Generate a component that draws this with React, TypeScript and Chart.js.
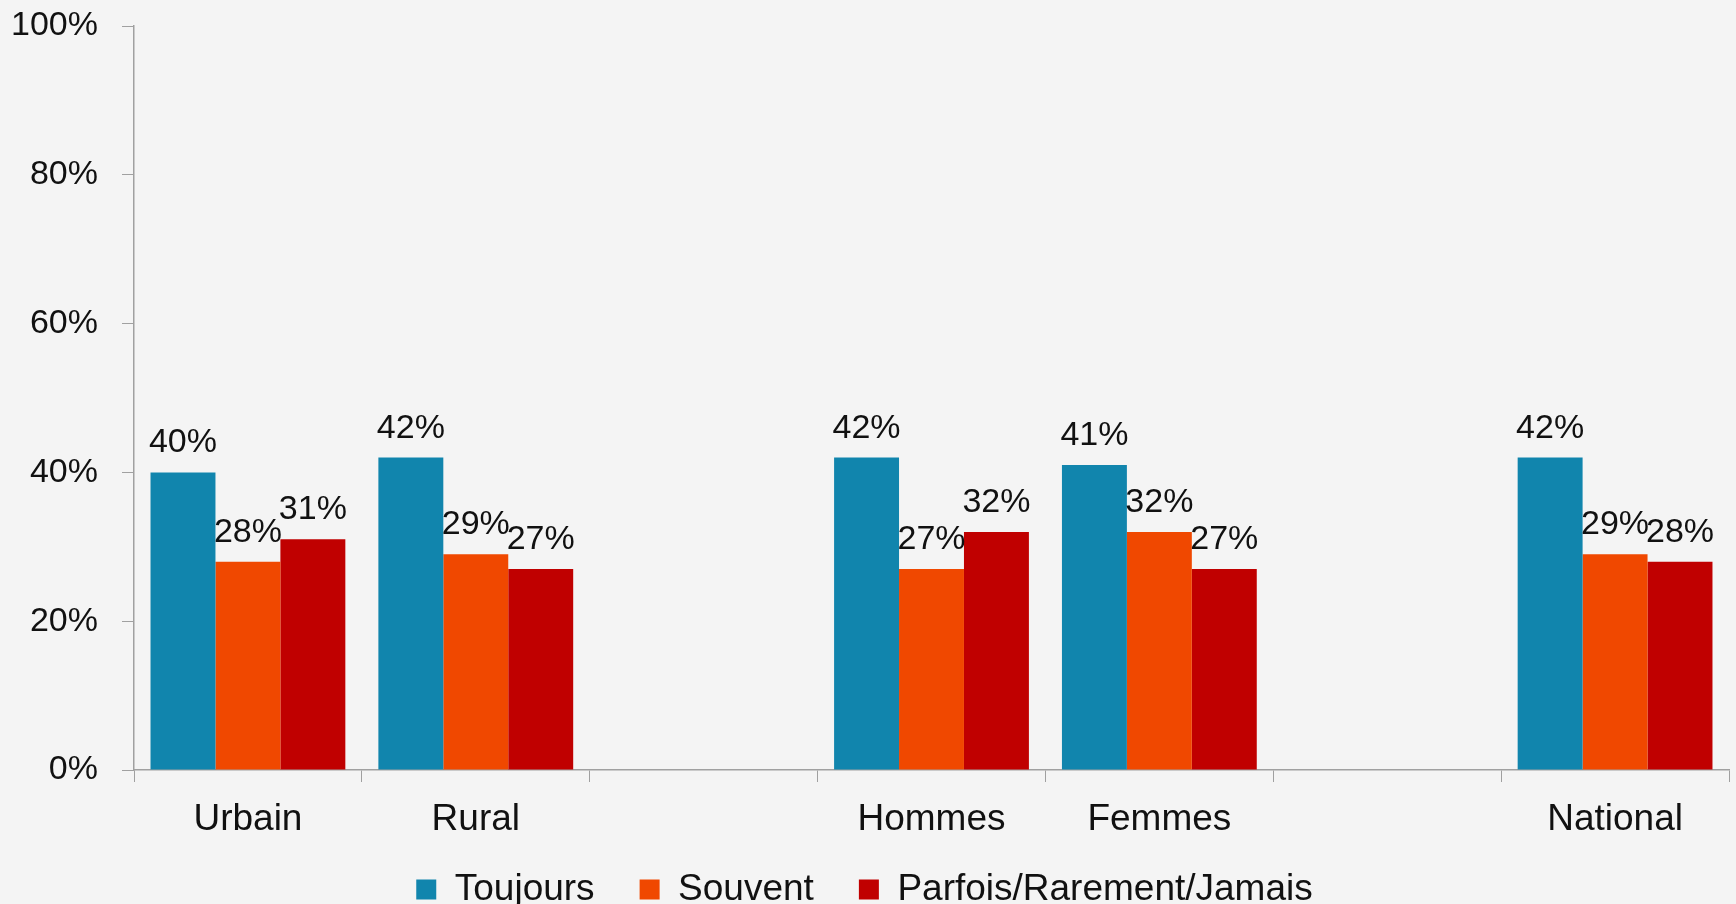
import React, { useEffect, useRef } from "react";
import { Chart, registerables } from "chart.js";

Chart.register(...registerables);

const categories = ["Urbain", "Rural", "", "Hommes", "Femmes", "", "National"];
const toujours = [40, 42, null, 42, 41, null, 42];
const souvent = [28, 29, null, 27, 32, null, 29];
const parfois = [31, 27, null, 32, 27, null, 28];
const seriesNames = ["Toujours", "Souvent", "Parfois/Rarement/Jamais"];
const yTicks = [0, 20, 40, 60, 80, 100];

const FONT = "'Liberation Sans', Arial, sans-serif";

const valueLabels = {
  id: "valueLabels",
  afterLayout(chart: any) {
    // let the category labels overflow their (short) scale box
    if (chart.scales.x) chart.scales.x._computeLabelArea = () => undefined;
  },
  afterDatasetsDraw(chart: any) {
    const ctx = chart.ctx;
    ctx.save();
    ctx.font = `34px ${FONT}`;
    ctx.fillStyle = "#111111";
    ctx.textAlign = "center";
    ctx.textBaseline = "alphabetic";
    chart.data.datasets.forEach((ds: any, i: number) => {
      const meta = chart.getDatasetMeta(i);
      meta.data.forEach((el: any, j: number) => {
        const v = ds.data[j];
        if (v === null || v === undefined) return;
        ctx.fillText(`${v}%`, el.x, el.y - 20);
      });
    });
    ctx.restore();
  },
};

export default function App() {
  const ref = useRef<HTMLCanvasElement | null>(null);

  useEffect(() => {
    document.body.style.margin = "0";
    const canvas = ref.current!;
    const chart = new Chart(canvas, {
      type: "bar",
      data: {
        labels: categories,
        datasets: [
          { label: seriesNames[0], data: toujours, backgroundColor: "#1185AD", borderWidth: 0 },
          { label: seriesNames[1], data: souvent, backgroundColor: "#F04800", borderWidth: 0 },
          { label: seriesNames[2], data: parfois, backgroundColor: "#C00000", borderWidth: 0 },
        ],
      },
      options: {
        responsive: false,
        animation: false,
        layout: { padding: { top: 26, right: 7, bottom: -14, left: 0 } },
        datasets: { bar: { barPercentage: 1, categoryPercentage: 0.855 } },
        plugins: {
          legend: {
            position: "bottom",
            labels: {
              font: { family: FONT, size: 37 },
              color: "#111111",
              boxWidth: 20,
              boxHeight: 20,
              padding: 45,
            },
          },
          tooltip: { enabled: false },
        },
        scales: {
          x: {
            grid: {
              display: true,
              drawOnChartArea: false,
              drawTicks: true,
              tickLength: 12,
              color: "#a0a0a0",
              offset: true,
            },
            border: { color: "#a0a0a0", width: 1.5 },
            ticks: {
              font: { family: FONT, size: 37 },
              color: "#111111",
              padding: 16,
              maxRotation: 0,
              autoSkip: false,
            },
            afterFit: (s: any) => {
              s.height = 56;
              s.paddingLeft = 0;
              s.paddingRight = 0;
            },
          },
          y: {
            min: 0,
            max: 100,
            afterBuildTicks: (s: any) => {
              s.ticks = yTicks.map((v) => ({ value: v }));
            },
            grid: {
              display: true,
              drawOnChartArea: false,
              drawTicks: true,
              tickLength: 12,
              color: "#a0a0a0",
            },
            border: { color: "#a0a0a0", width: 1.5 },
            ticks: {
              font: { family: FONT, size: 34 },
              color: "#111111",
              padding: 24,
              callback: (v: any) => `${v}%`,
            },
            afterFit: (s: any) => {
              s.width = 134;
              s.paddingTop = 0;
              s.paddingBottom = 0;
            },
          },
        },
      },
      plugins: [valueLabels],
    });
    return () => chart.destroy();
  }, []);

  return (
    <div
      style={{
        position: "fixed",
        left: 0,
        top: 0,
        width: 1736,
        height: 904,
        background: "#f4f4f4",
        overflow: "hidden",
      }}
    >
      <canvas ref={ref} width={1736} height={904} style={{ display: "block" }} />
    </div>
  );
}
